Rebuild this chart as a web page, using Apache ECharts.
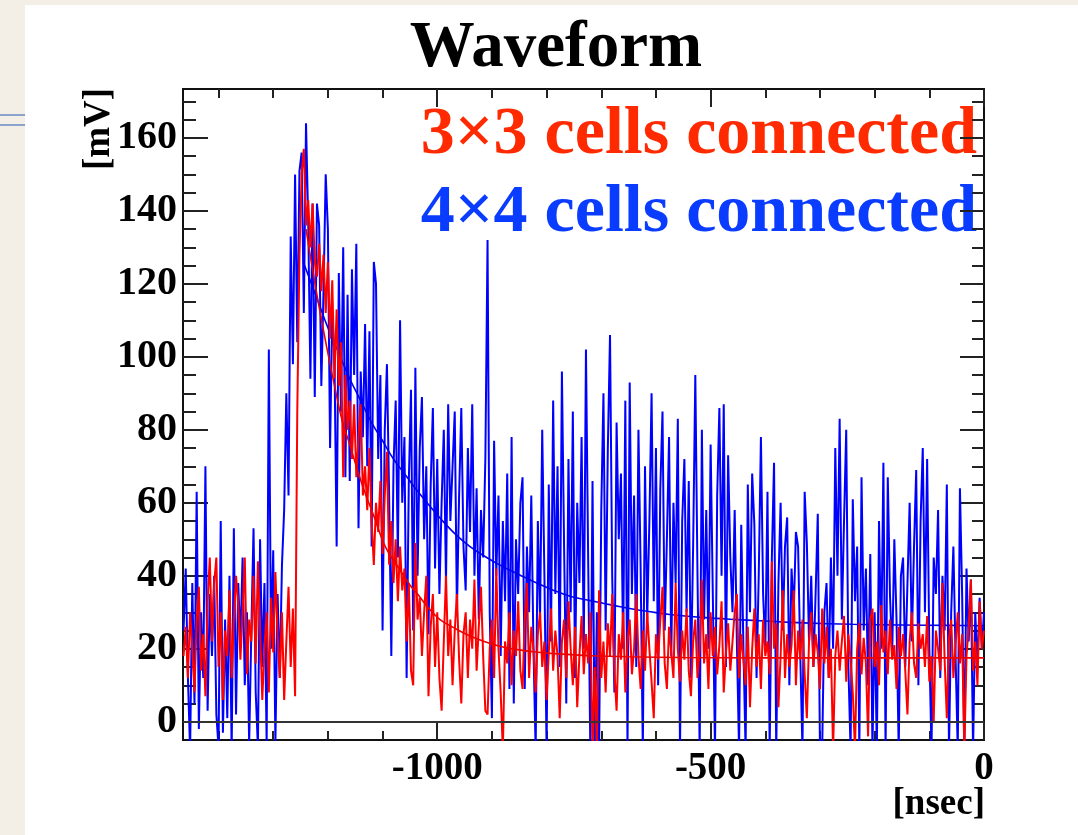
<!DOCTYPE html>
<html>
<head>
<meta charset="utf-8">
<title>Waveform</title>
<script src="https://cdn.jsdelivr.net/npm/echarts@6/dist/echarts.min.js"></script>
<style>
  html, body { margin: 0; padding: 0; background: #ffffff; }
  #chart { width: 1078px; height: 835px; }
</style>
</head>
<body>
<div id="chart"></div>
<script>
// Sampling of the two waveforms: first sample time and sample spacing [nsec]
const T0 = -1464;
const DT = 4;

// 3x3 cells connected [mV]
const redValues = [
  18, 26, 12, 30, 20, 8, 28, 37, 14, 24,
  7, 33, 45, 22, 38, 45, 15, 30, 6, 25,
  18, 36, 12, 28, 40, 32, 17, 30, 45, 13,
  28, 22, 40, 16, 44, 25, 6, 20, 30, 8,
  34, 19, 41, 24, 12, 30, 6, 22, 37, 15,
  31, 7, 85, 128, 150, 157, 136, 143, 130, 142,
  126, 122, 131, 118, 128, 112, 126, 105, 121, 94,
  113, 92, 104, 67, 95, 80, 88, 72, 87, 67,
  78, 87, 62, 70, 58, 75, 55, 43, 60, 52,
  66, 46, 62, 74, 43, 55, 38, 50, 33, 48,
  36, 42, 22, 38, 14, 10, 49, 28, 34, 18,
  30, 40, 7, 26, 35, 15, 30, 12, 3, 22,
  40, 18, 28, 10, 25, 35, 17, 5, 24, 30,
  12, 28, 20, 39, 14, 26, 37, 18, 3, 2,
  20, 28, 12, 42, 20, 8, -8, 22, 16, 30,
  10, 25, 18, 33, 14, 9, 28, 38, 12, 26,
  20, 8, 24, 30, 15, 22, 6, 19, 31, 14,
  25, 18, 1, 22, 28, 12, 33, 20, 10, 26,
  4, 18, 29, 13, 24, 16, 30, -8, 15, -8,
  36, 12, 22, 8, 27, 18, 35, 14, 3, 24,
  17, 30, 8, 22, 28, 13, 20, 35, 18, 9,
  25, 14, 30, 20, 11, 1, 24, 17, 28, 37,
  16, 9, 26, 19, 12, 38, 20, 11, 25, 17,
  31, 14, 7, 22, 28, 12, 20, 39, 16, 24,
  9, 30, 18, 26, 13, 21, 33, 8, 19, 27,
  14, 22, 30, 35, 12, 24, 17, 10, 26, 4,
  20, 31, 15, 24, 9, 28, 18, 22, 13, 44,
  20, 27, 4, 18, 36, 12, 24, 15, 21, 36,
  10, 25, 17, 28, 13, 1, 22, 30, 15, 24,
  19, 9, 31, 16, 26, 12, 20, -8, 18, 25,
  14, 22, 29, 11, 24, 17, 8, -8, 20, 27,
  13, 23, 16, -4, 28, 31, 15, 22, 10, 32,
  19, 25, 13, 28, 17, 21, 9, 26, 18, 24,
  14, 2, 22, 30, 16, 12, 27, 20, 24, 15,
  29, 11, 18, 0, 25, 20, 14, 38, 17, 1,
  23, 28, 12, 21, 30, 16, 24, -8, 18, 26,
  39, 14, 22, 10, 33, 20, 25
];

// 4x4 cells connected [mV]
const blueValues = [
  25, 42, 12, -8, 38, 5, 63, -2, 30, 12,
  70, 3, 35, 18, 40, 2, -7, 55, -3, 28,
  1, 40, -8, 53, 2, 38, 22, 45, 10, 30,
  -6, 25, 53, 8, -7, 50, 15, 38, -6, 102,
  20, 47, -6, 35, 12, 43, 58, 90, 62, 133,
  98, 150, 104, 151, 156, 112, 164, 137, 94, 142,
  89, 142, 136, 92, 118, 150, 135, 75, 112, 100,
  48, 123, 85, 130, 67, 117, 66, 124, 95, 131,
  53, 96, 78, 109, 70, 107, 48, 126, 120, 72,
  95, 25, 80, 98, 62, 18, 70, 88, 45, 110,
  60, 78, 12, 66, 91, 25, 97, 40, 75, 89,
  50, 70, 24, 65, 86, 42, 72, 35, 60, 80,
  38, 87, 55, 70, 85, 30, 62, 86, 48, 36,
  75, 52, 87, 40, 64, 28, 58, 45, 72, 132,
  30, 1, 77, 40, 62, 18, 55, 33, 68, 9,
  78, 5, 50, 35, 60, 67, 9, 48, 30, 62,
  20, -8, 55, 28, 80, 40, -8, 65, 22, 88,
  35, 70, 15, 96, 48, 5, 72, 30, 85, 12,
  60, 38, 78, 20, 102, 45, -8, 66, -8, 30,
  -8, 58, 90, 25, 75, 106, 40, 8, 82, 50,
  68, 20, 88, -8, 93, 35, 62, 15, 80, 42,
  -8, 70, 28, 55, 90, 33, 75, 10, 64, 85,
  25, 50, 78, 18, 60, 38, 83, -8, 55, 72,
  30, 66, 12, 48, 95, 40, -8, 80, 28, 58,
  20, 76, 35, -8, 62, 86, 40, 87, 15, 73,
  45, 30, 58, 22, -8, 54, 20, -8, 65, 30,
  68, 54, 12, 40, 78, 35, 20, 63, -8, 45,
  71, -8, 38, 60, 25, 48, 56, 10, 42, 30,
  52, 48, 18, -8, 63, 49, 22, 40, 15, 35,
  57, -8, -8, 30, 38, 12, 45, 20, 75, 40,
  83, 28, 55, 80, 15, -8, 61, 33, 48, -8,
  67, 25, 42, 10, 46, -8, 30, -8, 55, 20,
  71, -8, 67, 35, 18, 50, 28, -8, 40, 45,
  15, 38, 60, 22, 48, 69, 10, 55, 75, 30,
  72, 20, -8, 45, 35, 58, 12, 40, 25, 65,
  -8, 30, 48, 18, -8, 64, 35, -8, 42, 22,
  39, -8, 30, 15, 34, 20, 30
];

// Exponential decay fits
const redFitTimes  = [-1240, -1220, -1200, -1185, -1173, -1160, -1150, -1135, -1115, -1095, -1070, -1050, -1036, -1015, -995, -970, -940, -910, -880, -850, -820, -780, -720, -650, -550, -400, -200, 0];
const redFitValues = [135, 117, 101, 90, 82, 76, 71, 64, 56, 48, 42, 37.5, 35, 31, 28, 25.8, 23.5, 21.8, 20.5, 19.7, 19.1, 18.6, 18.1, 17.8, 17.6, 17.5, 17.5, 17.5];
const blueFitTimes  = [-1245, -1220, -1200, -1180, -1160, -1140, -1120, -1100, -1080, -1055, -1035, -1013, -990, -964, -940, -915, -880, -850, -818, -790, -757, -720, -697, -665, -635, -600, -575, -515, -465, -400, -330, -241, -150, -60, 0];
const blueFitValues = [126, 116, 108, 101, 94, 88, 82, 77, 72, 67, 63, 59, 55, 51, 48, 45.5, 42.5, 40.3, 38, 36.2, 34.4, 33.2, 32.5, 31.5, 30.7, 29.9, 29.4, 28.6, 28.1, 27.6, 27.1, 26.7, 26.5, 26.4, 26.3];

// Axis ranges and ticks
const X_MIN = -1465, X_MAX = 0;
const Y_MIN = -5, Y_MAX = 173.4;
const xLabelValues = [-1000, -500, 0];
const xMinorTicks = [-1400, -1300, -1200, -1100, -900, -800, -700, -600, -400, -300, -200, -100];
const yLabelValues = [0, 20, 40, 60, 80, 100, 120, 140, 160];
const yMinorTicks = [5, 10, 15, 25, 30, 35, 45, 50, 55, 65, 70, 75, 85, 90, 95, 105, 110, 115, 125, 130, 135, 145, 150, 155, 165, 170];

const SERIF = '"Liberation Serif", "Times New Roman", serif';
const BEIGE = '#f3efe7';

const toPairs = (vals) => vals.map((v, i) => [T0 + i * DT, v]);
const zipPairs = (ts, vs) => ts.map((t, i) => [t, vs[i]]);
const plainNumber = (v) => String(v);

function axisCommon(len, ticks, labels, margin, fontSize) {
  return {
    offset: 0,
    axisLine: { show: false, onZero: false }, splitLine: { show: false },
    axisTick: { show: true, inside: true, length: len, customValues: ticks,
                lineStyle: { color: '#222', width: 2 } },
    axisLabel: labels ? { show: true, customValues: labels, margin: margin, formatter: plainNumber,
                          fontFamily: SERIF, fontWeight: 'bold', fontSize: fontSize, color: '#000' }
                      : { show: false }
  };
}
function xAx(position, ticks, len, labels) {
  return Object.assign({ type: 'value', position: position, min: X_MIN, max: X_MAX },
                       axisCommon(len, ticks, labels, 9, 39));
}
function yAx(position, ticks, len, labels) {
  return Object.assign({ type: 'value', position: position, min: Y_MIN, max: Y_MAX },
                       axisCommon(len, ticks, labels, 6, 40));
}

const chart = echarts.init(document.getElementById('chart'), null, { renderer: 'canvas' });
chart.setOption({
  animation: false,
  backgroundColor: '#ffffff',
  grid: { left: 183, right: 94, top: 89, bottom: 95, show: true,
          borderColor: '#111', borderWidth: 2, backgroundColor: 'transparent' },
  xAxis: [
    xAx('bottom', xLabelValues, 18, xLabelValues),
    xAx('bottom', xMinorTicks, 9, null),
    xAx('top', xLabelValues, 18, null),
    xAx('top', xMinorTicks, 9, null)
  ],
  yAxis: [
    yAx('left', yLabelValues, 25, yLabelValues),
    yAx('left', yMinorTicks, 13, null),
    yAx('right', yLabelValues, 24, null),
    yAx('right', yMinorTicks, 12, null)
  ],
  series: [
    { name: '4x4', type: 'line', data: toPairs(blueValues), showSymbol: false,
      lineStyle: { color: '#0000ff', width: 2 }, z: 2 },
    { name: '4x4 fit', type: 'line', data: zipPairs(blueFitTimes, blueFitValues), showSymbol: false,
      smooth: 0.4, lineStyle: { color: '#0000ee', width: 1.6 }, z: 3 },
    { name: '3x3', type: 'line', data: toPairs(redValues), showSymbol: false,
      lineStyle: { color: '#ff0000', width: 2 }, z: 4 },
    { name: '3x3 fit', type: 'line', data: zipPairs(redFitTimes, redFitValues), showSymbol: false,
      smooth: 0.4, lineStyle: { color: '#ee0000', width: 1.6 }, z: 5,
      markLine: { silent: true, symbol: 'none', label: { show: false },
                  lineStyle: { color: '#333', width: 2, type: 'solid' },
                  data: [{ yAxis: 0 }] } }
  ],
  graphic: [
    { type: 'rect', silent: true, shape: { x: 0, y: 0, width: 1078, height: 5 }, style: { fill: BEIGE } },
    { type: 'rect', silent: true, shape: { x: 0, y: 0, width: 25, height: 835 }, style: { fill: BEIGE } },
    { type: 'line', silent: true, shape: { x1: 0, y1: 115, x2: 25, y2: 115 }, style: { stroke: '#8aa2cc', lineWidth: 2 } },
    { type: 'line', silent: true, shape: { x1: 0, y1: 125, x2: 25, y2: 125 }, style: { stroke: '#8aa2cc', lineWidth: 2 } },
    { type: 'text', silent: true, x: 556, y: 49,
      style: { text: 'Waveform', fill: '#000', font: 'bold 65px ' + SERIF,
               textAlign: 'center', textVerticalAlign: 'middle', align: 'center', verticalAlign: 'middle' } },
    { type: 'text', silent: true, x: 977, y: 135,
      style: { text: '3\u00d73 cells connected', fill: '#ff2a00', font: 'bold 68px ' + SERIF,
               textAlign: 'right', textVerticalAlign: 'middle', align: 'right', verticalAlign: 'middle' } },
    { type: 'text', silent: true, x: 977, y: 213,
      style: { text: '4\u00d74 cells connected', fill: '#0a3cff', font: 'bold 68px ' + SERIF,
               textAlign: 'right', textVerticalAlign: 'middle', align: 'right', verticalAlign: 'middle' } },
    { type: 'text', silent: true, x: 985, y: 804,
      style: { text: '[nsec]', fill: '#000', font: 'bold 37px ' + SERIF,
               textAlign: 'right', textVerticalAlign: 'middle', align: 'right', verticalAlign: 'middle' } },
    { type: 'text', silent: true, x: 99, y: 129, rotation: Math.PI / 2,
      style: { text: '[mV]', fill: '#000', font: 'bold 37px ' + SERIF,
               textAlign: 'center', textVerticalAlign: 'middle', align: 'center', verticalAlign: 'middle' } }
  ]
});
</script>
</body>
</html>
